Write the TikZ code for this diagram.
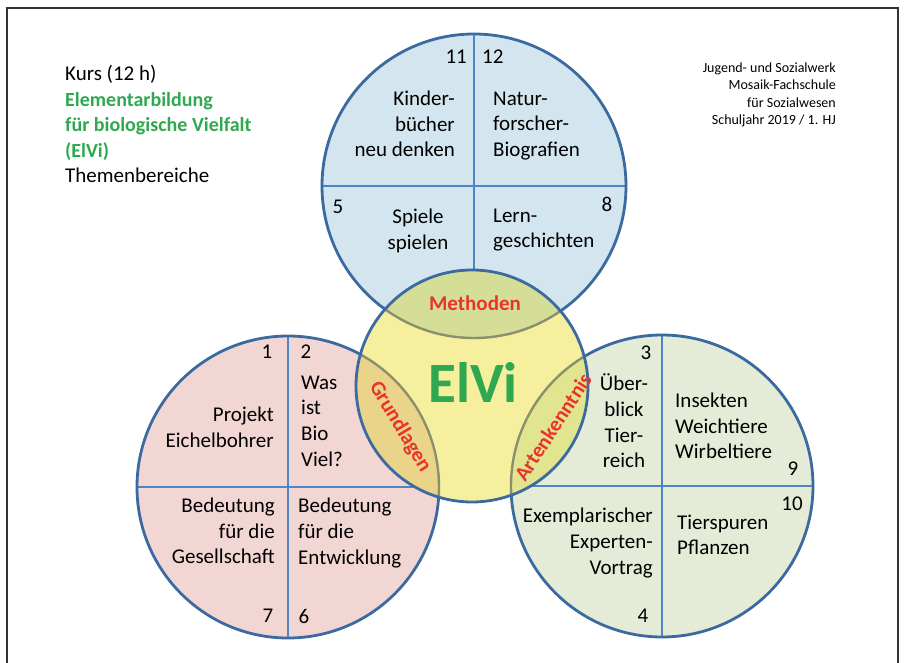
\documentclass[tikz,border=0pt]{standalone}
\usepackage{fontspec}
\setmainfont{Carlito}
\usepackage{tikz}

\definecolor{ringblue}{HTML}{3B6AA0}
\definecolor{crossblue}{HTML}{4F85C5}
\definecolor{innergray}{HTML}{8B8F6E}
\definecolor{topfill}{HTML}{D3E5EE}
\definecolor{leftfill}{HTML}{F1D6D4}
\definecolor{rightfill}{HTML}{E4EBD6}
\definecolor{midfill}{HTML}{F6F09E}
\definecolor{topmix}{HTML}{D5DE97}
\definecolor{leftmix}{HTML}{EAD48A}
\definecolor{rightmix}{HTML}{E2E58F}
\definecolor{lensred}{HTML}{E8352B}
\definecolor{elvigreen}{HTML}{2FA84F}
\definecolor{framegray}{HTML}{333333}

\begin{document}
\begin{tikzpicture}[x=1pt,y=-1pt,
  txt/.style={font=\fontsize{21}{25.6}\selectfont},
  lens/.style={font=\bfseries\fontsize{21}{24}\selectfont, text=lensred}]
\tikzstyle{every node}+=[inner sep=0pt]
\useasboundingbox (0,0) rectangle (906,663);
\draw [framegray, line width=1.2] (7,663) -- (7,8) -- (898,8) -- (898,663);
% circle centres
\coordinate (ctop) at (474,186);
\coordinate (cleft) at (288,487);
\coordinate (cright) at (662,486);
\coordinate (cmid) at (472,386);
% outer circles
\fill [topfill] (ctop) circle (152);
\fill [leftfill] (cleft) circle (151);
\fill [rightfill] (cright) circle (151);
\draw [crossblue, line width=2.6] (322,186) -- (626,186);
\draw [crossblue, line width=2.6] (474,34) -- (474,338);
\draw [crossblue, line width=2.6] (137,487) -- (439,487);
\draw [crossblue, line width=2.6] (288,336) -- (288,638);
\draw [crossblue, line width=2.6] (511,486) -- (813,486);
\draw [crossblue, line width=2.6] (662,335) -- (662,637);
\draw [ringblue, line width=2.8] (ctop) circle (152);
\draw [ringblue, line width=2.8] (cleft) circle (151);
\draw [ringblue, line width=2.8] (cright) circle (151);
% middle circle and lenses
\fill [midfill] (cmid) circle (116);
\begin{scope}
\clip (cmid) circle (116);
\fill [topmix] (ctop) circle (152);
\fill [leftmix] (cleft) circle (151);
\fill [rightmix] (cright) circle (151);
\draw [innergray, line width=2.4] (ctop) circle (152);
\draw [innergray, line width=2.4] (cleft) circle (151);
\draw [innergray, line width=2.4] (cright) circle (151);
\end{scope}
\draw [ringblue, line width=2.8] (cmid) circle (116);
% top circle
\node [txt, anchor=east] (n11) at (467,57) {11};
\node [txt, anchor=west] (n12) at (482,57) {12};
\node [txt, align=right, anchor=east] (kinder) at (455,124) {Kinder-\\bücher\\neu denken};
\node [txt, align=left, anchor=west] (natur) at (493,126) {Natur-\\forscher-\\Biografien};
\node [txt] (n5) at (338,207) {5};
\node [txt, align=center] (spiele) at (418,231) {Spiele\\spielen};
\node [txt] (n8) at (607,204) {8};
\node [txt, align=left, anchor=west] (lern) at (493,230) {Lern-\\geschichten};
% left circle
\node [txt] (n1) at (267,352) {1};
\node [txt] (n2) at (306,352) {2};
\node [txt, align=right, anchor=east] (projekt) at (274,427) {Projekt\\Eichelbohrer};
\node [txt, align=left, anchor=west] (wasist) at (301,421) {Was\\ist\\Bio\\Viel?};
\node [txt, align=right, anchor=east] (bedges) at (275,531) {Bedeutung\\für die\\Gesellschaft};
\node [txt, align=left, anchor=west] (bedent) at (298,533) {Bedeutung\\für die\\Entwicklung};
\node [txt] (n7) at (268,616) {7};
\node [txt] (n6) at (304,616) {6};
% right circle
\node [txt] (n3) at (646,353) {3};
\node [txt, align=center] (ueber) at (624,421) {Über-\\blick\\Tier-\\reich};
\node [txt, align=left, anchor=west] (insekten) at (675,426) {Insekten\\Weichtiere\\Wirbeltiere};
\node [txt] (n9) at (793,469) {9};
\node [txt] (n10) at (792,504) {10};
\node [txt, align=right, anchor=east] (exempl) at (653,543) {Exemplarischer\\Experten-\\Vortrag};
\node [txt, align=left, anchor=west] (tierspuren) at (677,535) {Tierspuren\\Pflanzen};
\node [txt] (n4) at (643,616) {4};
% middle
\node [lens] (methoden) at (475,303) {Methoden};
\node [lens, rotate=-59] (grundlagen) at (400,427) {Grundlagen};
\node [lens, rotate=57] (arten) at (553,427) {Artenkenntnis};
\node [font=\bfseries\fontsize{57}{60}\selectfont, text=elvigreen] (elvi) at (473,383) {ElVi};
% headings
\node [txt, align=left, anchor=west] (titel) at (65,124) {Kurs (12 h)\\\textcolor{elvigreen}{\bfseries\fontsize{20}{25.6}\selectfont Elementarbildung}\\\textcolor{elvigreen}{\bfseries\fontsize{20}{25.6}\selectfont für biologische Vielfalt}\\\textcolor{elvigreen}{\bfseries\fontsize{20}{25.6}\selectfont (ElVi)}\\Themenbereiche};
\node [align=right, anchor=east, font=\fontsize{14}{17.4}\selectfont] (schule) at (836,95) {Jugend- und Sozialwerk\\Mosaik-Fachschule\\für Sozialwesen\\Schuljahr 2019 / 1. HJ};
\end{tikzpicture}
\end{document}
